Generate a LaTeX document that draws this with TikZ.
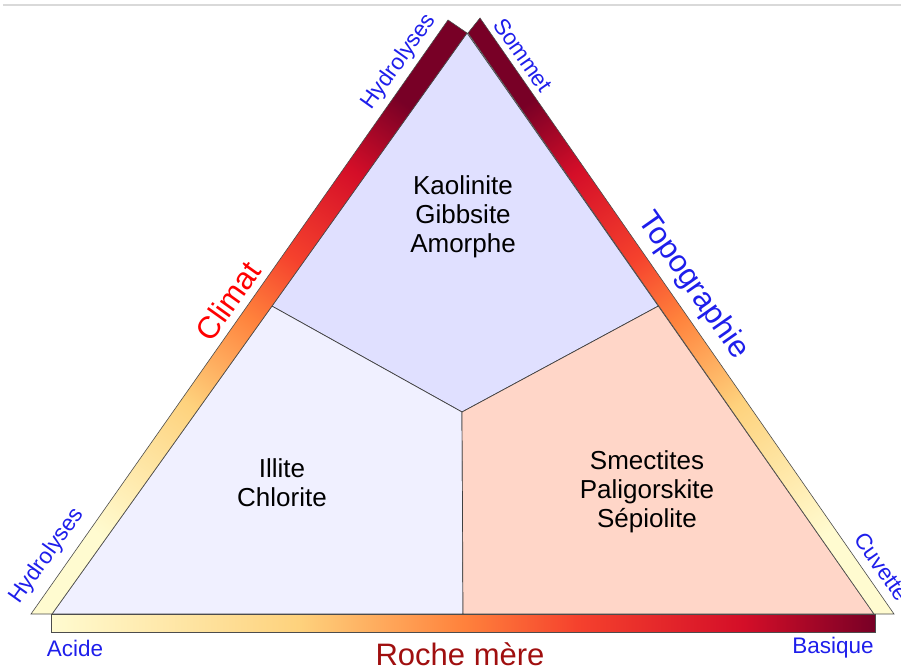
\documentclass[tikz,border=0pt]{standalone}
\usepackage{fontspec}
\setmainfont{Liberation Sans}
\usepackage{tikz}
\usetikzlibrary{positioning,calc}

\definecolor{barpale}{RGB}{255,251,208}
\definecolor{barsand}{RGB}{254,210,125}
\definecolor{barorange}{RGB}{255,130,60}
\definecolor{barflame}{RGB}{245,65,45}
\definecolor{barred}{RGB}{212,14,40}
\definecolor{bardark}{RGB}{120,0,38}
\definecolor{kaolin}{RGB}{224,224,255}
\definecolor{illite}{RGB}{240,240,255}
\definecolor{smectite}{RGB}{255,214,200}
\definecolor{poleblue}{RGB}{30,30,235}
\definecolor{rochered}{RGB}{160,15,15}

\pgfdeclarehorizontalshading{heatbar}{100bp}{color(0bp)=(barpale); color(25bp)=(barpale); color(40bp)=(barsand); color(50bp)=(barorange); color(57bp)=(barflame); color(67bp)=(barred); color(75bp)=(bardark); color(100bp)=(bardark)}

\begin{document}
\begin{tikzpicture}[
    x=1pt, y=-1pt,
    font=\normalfont,
    zone/.style={
		fill=#1,
		draw=black!75,
		line width=0.7pt,
		line join=round
	},
	heatband/.style={
		shading=heatbar,
		shading angle=#1,
		draw=black!70,
		line width=0.6pt
	},
	mineral/.style={
		font=\fontsize{26}{29}\selectfont,
		text=black,
		inner sep=0pt
	},
	pole/.style={
		font=\fontsize{22.5}{26}\selectfont,
		text=poleblue,
		inner sep=0pt
	},
	factor/.style={
		font=\fontsize{31}{34}\selectfont,
		inner sep=0pt
	}
  ]
  \useasboundingbox (0,0) rectangle (901,668);
  \clip (0,0) rectangle (901,668);
  \draw [black!15, line width=1.2pt] (3,5) -- (901,5);

    % corners of the triangle and the three zones
  \coordinate (apex) at (467,33);
  \coordinate (bl) at (52,614);
  \coordinate (br) at (874,614);
  \coordinate (mid) at (462,412);
  \coordinate (base) at (463,614);
  \coordinate (lsplit) at ($(apex)!0.47!(bl)$);
  \coordinate (rsplit) at ($(apex)!0.47!(br)$);

  \path [zone=kaolin] (apex) -- (rsplit) -- (mid) -- (lsplit) -- cycle;
  \path [zone=illite] (lsplit) -- (mid) -- (base) -- (bl) -- cycle;
  \path [zone=smectite] (mid) -- (rsplit) -- (br) -- (base) -- cycle;

    % the three gradient bars
  \shade [heatband=54.5] (31,614) -- (bl) -- (apex) -- (448,20) -- cycle;
  \shade [heatband=125] (894,614) -- (br) -- (468,33) -- (480,18) -- cycle;
  \shade [heatband=0] (51,614) rectangle (875,632);

  \node [mineral] (kaolinite) at (463,218)
 {%
 \begin{tabular}{c}
  Kaolinite\\
  Gibbsite\\
  Amorphe
 \end{tabular}
 };

  \node [mineral] (illite) at (282,486)
 {%
 \begin{tabular}{c}
  Illite\\
  Chlorite
 \end{tabular}
 };

  \node [mineral] (smectites) at (647,493)
 {%
 \begin{tabular}{c}
  Smectites\\
  Paligorskite\\
  Sépiolite
 \end{tabular}
 };

  \node [pole, rotate=54.5] (hydrotop) at (399,62) {Hydrolyses};
  \node [pole, rotate=-55] (sommet) at (523,55) {Sommet};
  \node [factor, text=red, rotate=54.5] (climat) at (228,301) {Climat};
  \node [factor, text=poleblue, rotate=-55] (topo) at (693,286) {Topographie};
  \node [pole, rotate=54.5] (hydrolow) at (47,556) {Hydrolyses};
  \node [pole, rotate=-55] (cuvette) at (882,567) {Cuvette};
  \node [pole] (acide) at (75,648) {Acide};
  \node [pole] (basique) at (833,648) {Basique};
  \node [factor, text=rochered] (roche) at (460,654) {Roche mère};

\end{tikzpicture}
\end{document}
